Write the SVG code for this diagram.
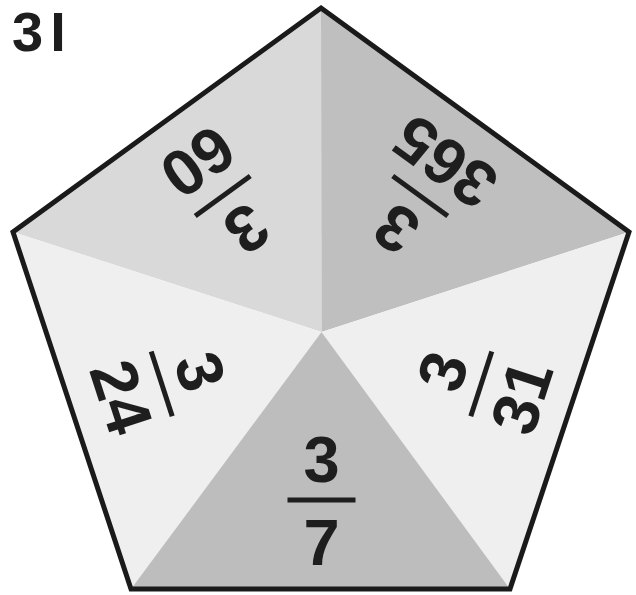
<svg xmlns="http://www.w3.org/2000/svg" width="636" height="595" viewBox="0 0 636 595">
<style>
.f{font-family:"Liberation Sans",Arial,sans-serif;font-weight:bold;font-size:65px;fill:#1e1e1e;text-anchor:middle}
.bar{stroke:#1e1e1e;stroke-width:5}
</style>
<rect width="636" height="595" fill="#ffffff"/>
<text x="12" y="51" style="font-family:'Liberation Sans',Arial,sans-serif;font-weight:bold;font-size:56px;fill:#1e1e1e" letter-spacing="7">3I</text>
<g id="pentagon">
<polygon points="321,8 13,232 321.5,332" fill="#d9d9d9"/>
<polygon points="321,8 629,232 321.5,332" fill="#bfbfbf"/>
<polygon points="13,232 131,589 321.5,332" fill="#efefef"/>
<polygon points="629,232 510,589 321.5,332" fill="#efefef"/>
<polygon points="131,589 510,589 321.5,332" fill="#bdbdbd"/>
<polygon points="321,8 629,232 510,589 131,589 13,232" fill="none" stroke="#1a1a1a" stroke-width="5"/>
</g>
<g id="frac-bottom">
<text class="f" x="321.5" y="482">3</text><line class="bar" x1="287.5" y1="500" x2="355.5" y2="500"/><text class="f" x="321.5" y="565">7</text>
</g>
<g id="frac-right" transform="rotate(-72 321.5 332)">
<text class="f" x="321.5" y="482">3</text><line class="bar" x1="287.5" y1="500" x2="355.5" y2="500"/><text class="f" x="321.5" y="565">31</text>
</g>
<g id="frac-left" transform="rotate(72 321.5 332)">
<text class="f" x="321.5" y="482">3</text><line class="bar" x1="287.5" y1="500" x2="355.5" y2="500"/><text class="f" x="321.5" y="565">24</text>
</g>
<g id="frac-topleft" transform="rotate(144 321.5 332)">
<text class="f" x="321.5" y="482">3</text><line class="bar" x1="287.5" y1="500" x2="355.5" y2="500"/><text class="f" x="321.5" y="565">60</text>
</g>
<g id="frac-topright" transform="rotate(-144 321.5 332)">
<text class="f" x="321.5" y="482">3</text><line class="bar" x1="287.5" y1="500" x2="355.5" y2="500"/><text class="f" x="321.5" y="565">365</text>
</g>
</svg>
